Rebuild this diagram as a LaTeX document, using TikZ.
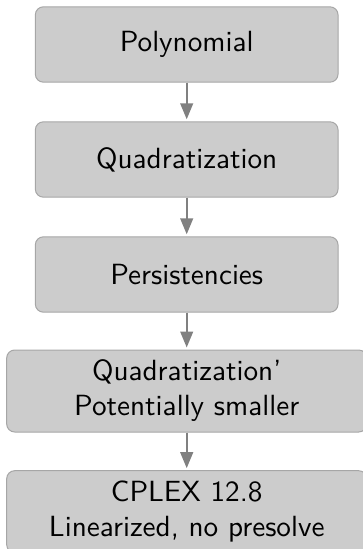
\documentclass[tikz,border=0pt]{standalone}
\usepackage{graphicx}
\usetikzlibrary{arrows.meta}
\definecolor{boxfill}{HTML}{CCCCCC}
\definecolor{boxline}{HTML}{A6A6A6}
\definecolor{arrcol}{HTML}{808080}
\newcommand{\bigsf}[1]{\scalebox{2.19}{#1}}
\tikzset{
  stepbox/.style={draw=boxline, fill=boxfill, line width=0.75pt, rounded corners=6pt,
    minimum height=56.5pt, inner sep=0pt, align=center,
    font=\sffamily\fontsize{10}{26.25}\selectfont},
  narrowbox/.style={stepbox, minimum width=227pt},
  widebox/.style={stepbox, minimum width=270pt, minimum height=61.5pt},
  flowarrow/.style={draw=arrcol, line width=1.6pt, -{Triangle[width=9.5pt,length=12pt]}, shorten >=1.5pt}
}
\begin{document}
\begin{tikzpicture}[x=0.75pt, y=-0.75pt]
\useasboundingbox (0,0) rectangle (363,549);
\clip (0,0) rectangle (363,549);
\node[narrowbox] (b1) at (186.7,44.5) {\bigsf{Polynomial}};
\node[narrowbox] (b2) at (186.7,159.5) {\bigsf{Quadratization}};
\node[narrowbox] (b3) at (186.7,274.5) {\bigsf{Persistencies}};
\node[widebox] (b4) at (186.7,391) {\bigsf{Quadratization'}\\\bigsf{Potentially smaller}};
\node[widebox] (b5) at (186.7,511.7) {\bigsf{CPLEX 12.8}\\\bigsf{Linearized, no presolve}};
\draw[flowarrow] (b1) -- (b2);
\draw[flowarrow] (b2) -- (b3);
\draw[flowarrow] (b3) -- (b4);
\draw[flowarrow] (b4) -- (b5);
\end{tikzpicture}
\end{document}
